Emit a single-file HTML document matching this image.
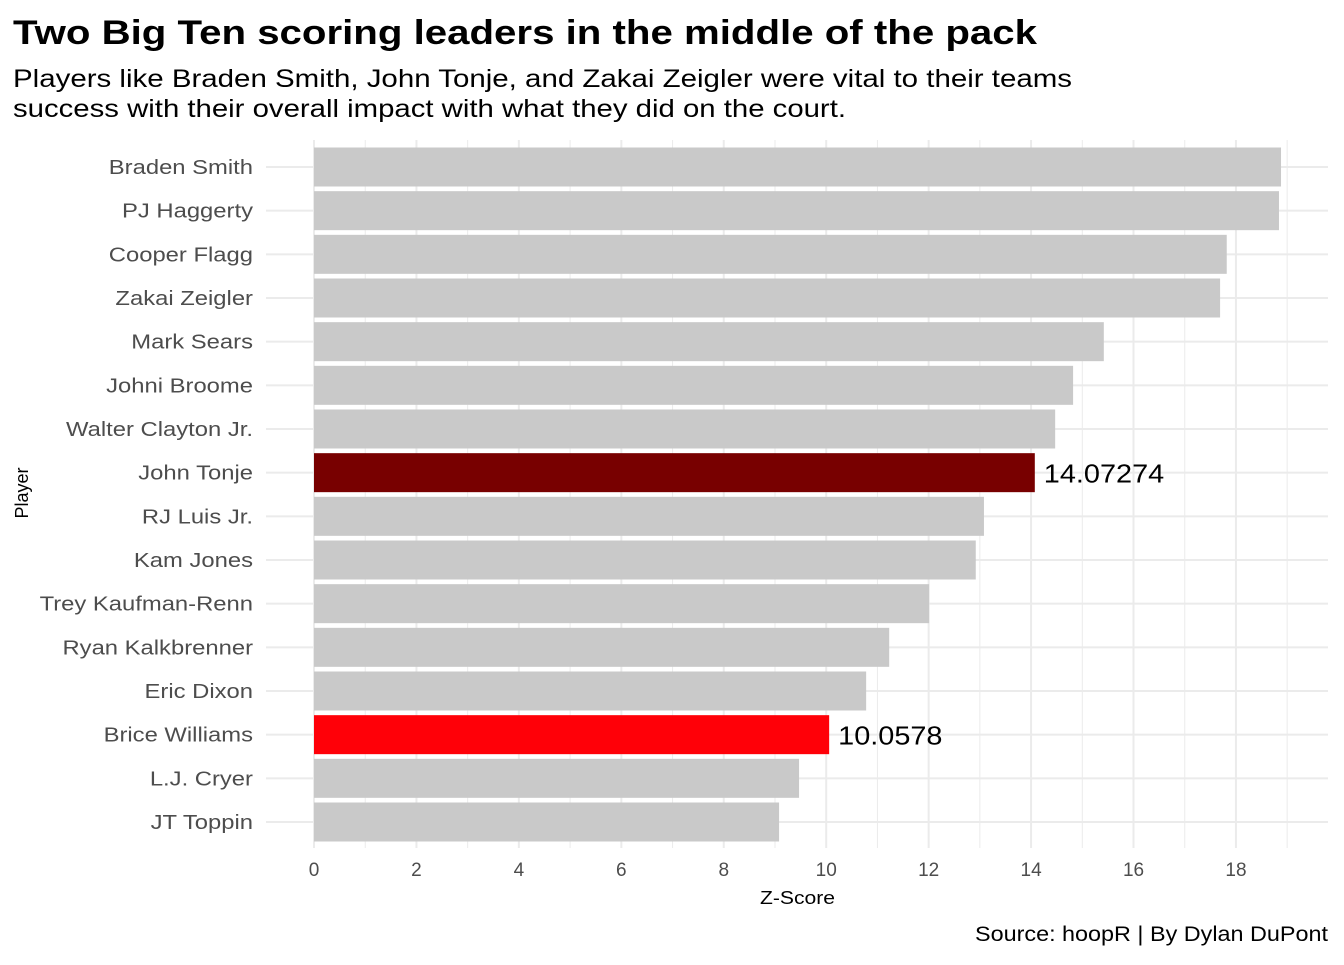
<!DOCTYPE html>
<html><head><meta charset="utf-8"><style>
body{margin:0;background:#fff;font-family:"Liberation Sans",Arial,sans-serif;}
</style></head><body>
<svg width="1344" height="960" xmlns="http://www.w3.org/2000/svg" font-family="Liberation Sans, Arial, sans-serif">
<rect width="1344" height="960" fill="#fff"/>
<text x="13" y="44" font-size="34" font-weight="bold" fill="#000" textLength="1024" lengthAdjust="spacingAndGlyphs">Two Big Ten scoring leaders in the middle of the pack</text>
<text x="13" y="87" font-size="25" fill="#000" textLength="1059" lengthAdjust="spacingAndGlyphs">Players like Braden Smith, John Tonje, and Zakai Zeigler were vital to their teams</text>
<text x="13" y="117" font-size="25" fill="#000" textLength="833" lengthAdjust="spacingAndGlyphs">success with their overall impact with what they did on the court.</text>
<g id="grid"></g><g id="bars"></g><g id="labels"></g>
<text x="760" y="904" font-size="18" fill="#000" textLength="75" lengthAdjust="spacingAndGlyphs">Z-Score</text>
<text transform="translate(28,493) rotate(-90)" font-size="18" text-anchor="middle" fill="#000">Player</text>
<text x="975" y="941" font-size="21" fill="#000" textLength="353" lengthAdjust="spacingAndGlyphs">Source: hoopR | By Dylan DuPont</text>
</svg>
<script>
const players=["Braden Smith","PJ Haggerty","Cooper Flagg","Zakai Zeigler","Mark Sears","Johni Broome","Walter Clayton Jr.","John Tonje","RJ Luis Jr.","Kam Jones","Trey Kaufman-Renn","Ryan Kalkbrenner","Eric Dixon","Brice Williams","L.J. Cryer","JT Toppin"];
const zscores=[18.88,18.84,17.82,17.69,15.42,14.82,14.47,14.07274,13.08,12.92,12.01,11.23,10.78,10.0578,9.47,9.08];
const highlight={"John Tonje":"#780000","Brice Williams":"#ff0008"};
const labelled={"John Tonje":"14.07274","Brice Williams":"10.0578"};
const xticks=[0,2,4,6,8,10,12,14,16,18];
const NS="http://www.w3.org/2000/svg";
const px0=266,px1=1328,py0=140,py1=848;
const x=v=>314+v*51.22;
const step=(822-167)/15;
const y=i=>167+i*step;
function mk(t,a,p){const e=document.createElementNS(NS,t);for(const k in a)e.setAttribute(k,a[k]);p.appendChild(e);return e;}
function widen(e,s){const w=e.getComputedTextLength();e.setAttribute('textLength',w*s);e.setAttribute('lengthAdjust','spacingAndGlyphs');}
const g=document.getElementById('grid'),b=document.getElementById('bars'),l=document.getElementById('labels');
for(let v=-1;v<=20;v++){const X=x(v);if(X<px0||X>px1)continue;
const ln=mk('line',{x1:X,x2:X,y1:py0,y2:py1,stroke:'#ebebeb','stroke-width':v%2===0?2:1},g);

}
players.forEach((p,i)=>{const ln=mk('line',{x1:px0,x2:px1,y1:y(i),y2:y(i),stroke:'#ebebeb','stroke-width':2},g);

});
xticks.forEach(v=>{const t=mk('text',{x:x(v),y:876,'font-size':19,'text-anchor':'middle',fill:'#4d4d4d'},l);t.textContent=v;

});
players.forEach((p,i)=>{
const r=mk('rect',{x:x(0),y:y(i)-19.5,width:x(zscores[i])-x(0),height:39,fill:highlight[p]||'#c9c9c9'},b);


const t=mk('text',{x:253,y:y(i)+7,'font-size':20,'text-anchor':'end',fill:'#4d4d4d'},l);t.textContent=p;


widen(t,1.19);
if(labelled[p]){const v=mk('text',{x:x(zscores[i])+9,y:y(i)+10,'font-size':26,fill:'#000'},l);v.textContent=labelled[p];


widen(v,1.11);}
});
</script>
</body></html>
